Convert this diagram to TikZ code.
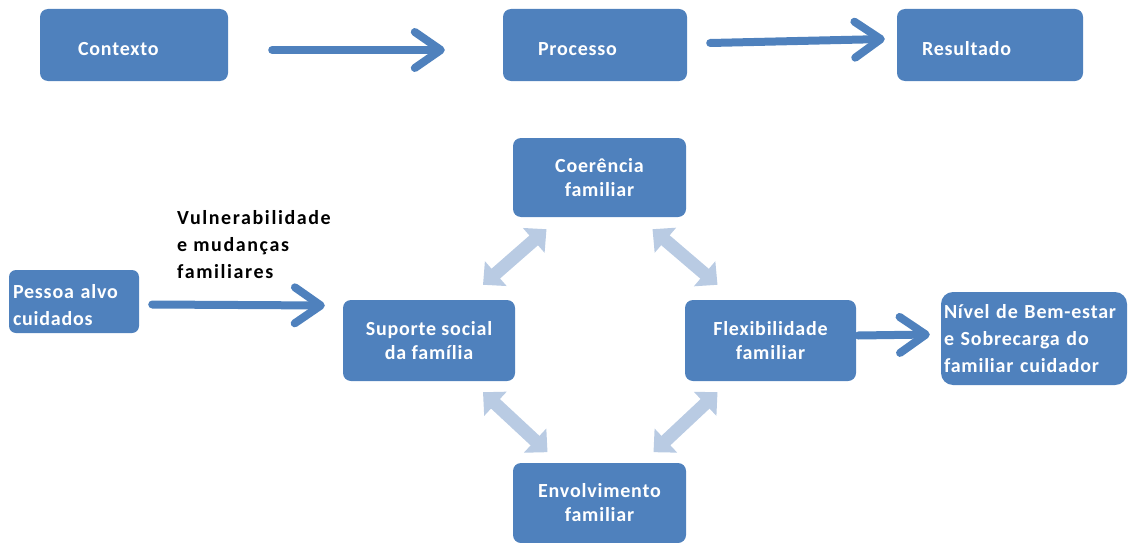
\documentclass[tikz,border=0pt]{standalone}
\usepackage{fontspec}
\setmainfont{Carlito}
\usetikzlibrary{arrows.meta,calc}
\definecolor{boxblue}{HTML}{4F81BD}
\definecolor{lightarr}{HTML}{B9CBE3}
\begin{document}
\begin{tikzpicture}[x=1pt,y=-1pt,
  box/.style={draw=none,fill=boxblue,rounded corners=8pt,text=white,font=\fontsize{20}{24}\selectfont\bfseries\addfontfeatures{LetterSpace=4},inner sep=0pt,align=center},
  topbox/.style={box,minimum height=72pt,text height=26pt,text depth=4pt,align=left},
  bigarrow/.style={draw=boxblue,line width=8pt,line cap=round,-{Straight Barb[length=26pt,width=36pt,line width=8pt,round]}},
  dblarrow/.style={draw=lightarr,line width=13pt,{Triangle[length=17pt,width=32pt]}-{Triangle[length=17pt,width=32pt]}}]
\useasboundingbox (0,0) rectangle (1129,543);
% top row
\node[topbox,minimum width=188pt,inner xsep=38pt,text width=112pt] (ctx) at (134,45) {Contexto};
\node[topbox,minimum width=184pt,inner xsep=35pt,text width=114pt] (proc) at (595,45) {Processo};
\node[topbox,minimum width=186pt,inner xsep=25pt,text width=136pt] (res) at (990,45) {Resultado};
\draw[bigarrow] ($(ctx.east)+(44,5)$) -- ($(proc.west)+(-58,5)$);
\draw[bigarrow] ($(proc.east)+(23,-2)$) -- ($(res.west)+(-12,-6)$);
% central diamond
\node[box,minimum width=173pt,minimum height=79pt] (coe) at (599.5,177.5) {Coerência\\familiar};
\node[box,minimum width=172pt,minimum height=81pt] (sup) at (429,340.5) {Suporte social\\da família};
\node[box,minimum width=171pt,minimum height=81pt] (flex) at (770.5,340.5) {Flexibilidade\\familiar};
\node[box,minimum width=173pt,minimum height=80pt] (env) at (599.5,503) {Envolvimento\\familiar};
\node[box,minimum width=130pt,minimum height=63pt,inner xsep=4pt,text width=122pt,align=left,rounded corners=7pt,text height=15pt,text depth=22pt,font=\fontsize{20}{27}\selectfont\bfseries\addfontfeatures{LetterSpace=4}] (pes) at (74,301.5) {Pessoa alvo\\cuidados};
\node[box,minimum width=186pt,minimum height=93pt,inner xsep=3pt,text width=180pt,align=left,rounded corners=12pt,font=\fontsize{20}{27}\selectfont\bfseries\addfontfeatures{LetterSpace=4}] (niv) at (1034,338.5) {Nível de Bem-estar\\e Sobrecarga do\\familiar cuidador};
\node[anchor=north west,inner sep=0pt,align=left,font=\fontsize{20}{27}\selectfont\bfseries\addfontfeatures{LetterSpace=8},text=black] (vul) at (177,210) {Vulnerabilidade\\e mudanças\\familiares};
\draw[bigarrow] ($(pes.east)+(13,3)$) -- ($(sup.west)+(-18,-35)$);
\draw[bigarrow] ($(flex.east)+(2,-5)$) -- ($(niv.west)+(-11,-4)$);
% light double arrows
\draw[dblarrow] ($(sup.north)+(54,-15)$) -- ($(coe.south)+(-53,12)$);
\draw[dblarrow] ($(coe.south)+(53,12)$) -- ($(flex.north)+(-53,-15)$);
\draw[dblarrow] ($(sup.south)+(54,11)$) -- ($(env.south)+(-52,-91)$);
\draw[dblarrow] ($(flex.south)+(-53,11)$) -- ($(env.south)+(54,-91)$);
\end{tikzpicture}
\end{document}
